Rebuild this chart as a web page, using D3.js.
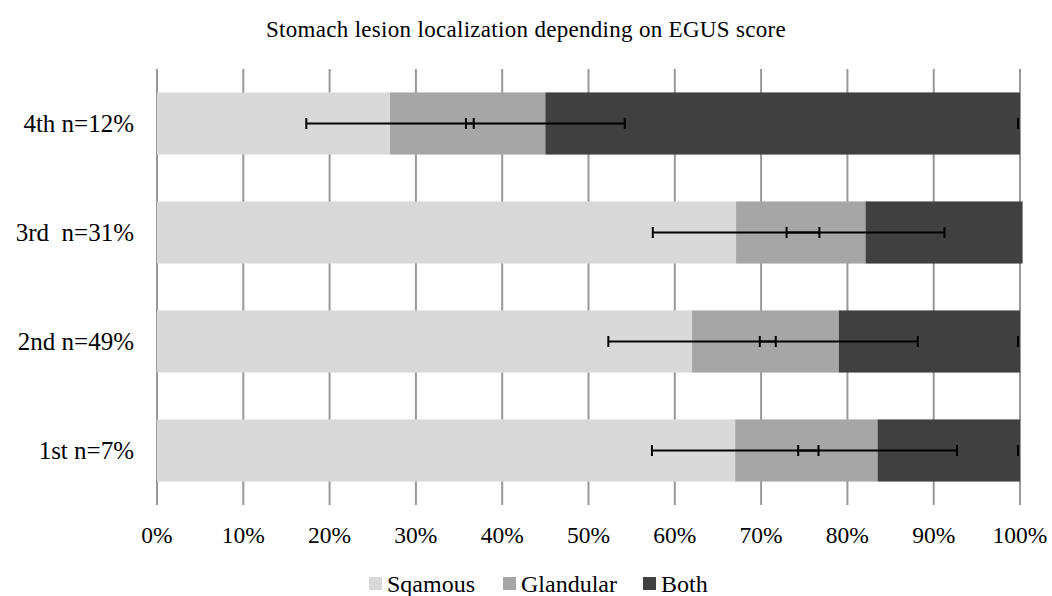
<!DOCTYPE html>
<html><head><meta charset="utf-8">
<script src="https://cdn.jsdelivr.net/npm/d3@7"></script>
<style>
html,body{margin:0;padding:0;background:#fff;}
svg{display:block;font-family:"Liberation Serif","Times New Roman",serif;}
</style></head>
<body><svg id="c" width="1052" height="596"></svg>
<script>
const categories = ["4th n=12%", "3rd  n=31%", "2nd n=49%", "1st n=7%"];
const seriesNames = ["Sqamous", "Glandular", "Both"];
const squamous = [27, 67.1, 62, 67];
const glandular = [18, 15, 17, 16.5];
const both = [55, 18.2, 21, 16.5];
const squamousErr = [9.7, 9.65, 9.7, 9.65];
const glandularErr = [9.2, 9.15, 9.15, 9.2];
const bothErr = [0, null, 0, 0];
const xTicks = [0, 10, 20, 30, 40, 50, 60, 70, 80, 90, 100];
const colors = ["#d9d9d9", "#a6a6a6", "#404040"];

const svg = d3.select("#c");
const W = 1052, H = 596;
const m = {left: 157, right: 32, top: 69, bottom: 91};
const x = d3.scaleLinear().domain([0, 100]).range([m.left, W - m.right]);
const y = d3.scaleBand().domain(categories).range([m.top, H - m.bottom]).paddingInner(0.43).paddingOuter(0.215);

svg.append("text").attr("x", 526).attr("y", 37).attr("text-anchor", "middle")
  .style("font-size", "23px").style("letter-spacing", "0.3px").attr("fill", "#000")
  .text("Stomach lesion localization depending on EGUS score");

// gridlines
svg.append("g").selectAll("line").data(xTicks).join("line")
  .attr("x1", d => x(d)).attr("x2", d => x(d))
  .attr("y1", m.top).attr("y2", H - m.bottom)
  .attr("stroke", "#999").attr("stroke-width", 2);

// stacked bars
const rows = categories.map((c, i) => ({cat: c, Sqamous: squamous[i], Glandular: glandular[i], Both: both[i]}));
const stack = d3.stack().keys(seriesNames)(rows);
const errs = [squamousErr, glandularErr, bothErr];

svg.append("g").selectAll("g").data(stack).join("g")
  .attr("fill", (d, i) => colors[i])
  .selectAll("rect").data(d => d).join("rect")
  .attr("x", d => x(d[0])).attr("width", d => x(d[1]) - x(d[0]))
  .attr("y", d => y(d.data.cat)).attr("height", y.bandwidth());

// error bars
const eg = svg.append("g").attr("stroke", "#000").attr("stroke-width", 2);
stack.forEach((s, si) => {
  s.forEach((d, ri) => {
    const e = errs[si][ri];
    if (e === null) return;
    const cy = y(d.data.cat) + y.bandwidth() / 2;
    const lo = x(d[1] - e), hi = x(Math.min(d[1] + e, 100));
    eg.append("line").attr("x1", lo).attr("x2", hi).attr("y1", cy).attr("y2", cy);
    const capX = e === 0 ? [x(d[1]) - 2] : [lo, hi];
    capX.forEach(cx => eg.append("line").attr("x1", cx).attr("x2", cx).attr("y1", cy - 5.5).attr("y2", cy + 5.5));
  });
});

// y labels
svg.append("g").selectAll("text").data(categories).join("text")
  .attr("x", 134).attr("y", d => y(d) + y.bandwidth() / 2)
  .attr("dy", "0.35em").attr("text-anchor", "end")
  .style("font-size", "25px").style("white-space", "pre").attr("fill", "#000")
  .text(d => d);

// x tick labels
svg.append("g").selectAll("text").data(xTicks).join("text")
  .attr("x", d => x(d)).attr("y", 535).attr("dy", "0.35em").attr("text-anchor", "middle")
  .style("font-size", "23.5px").attr("fill", "#000")
  .text(d => d + "%");

// legend
const legX = [369, 503, 643];
const lg = svg.append("g");
seriesNames.forEach((n, i) => {
  lg.append("rect").attr("x", legX[i]).attr("y", 577).attr("width", 13).attr("height", 13).attr("fill", colors[i]);
  lg.append("text").attr("x", legX[i] + 18).attr("y", 584).attr("dy", "0.35em")
    .style("font-size", "24px").attr("fill", "#000").text(n);
});
</script></body></html>
